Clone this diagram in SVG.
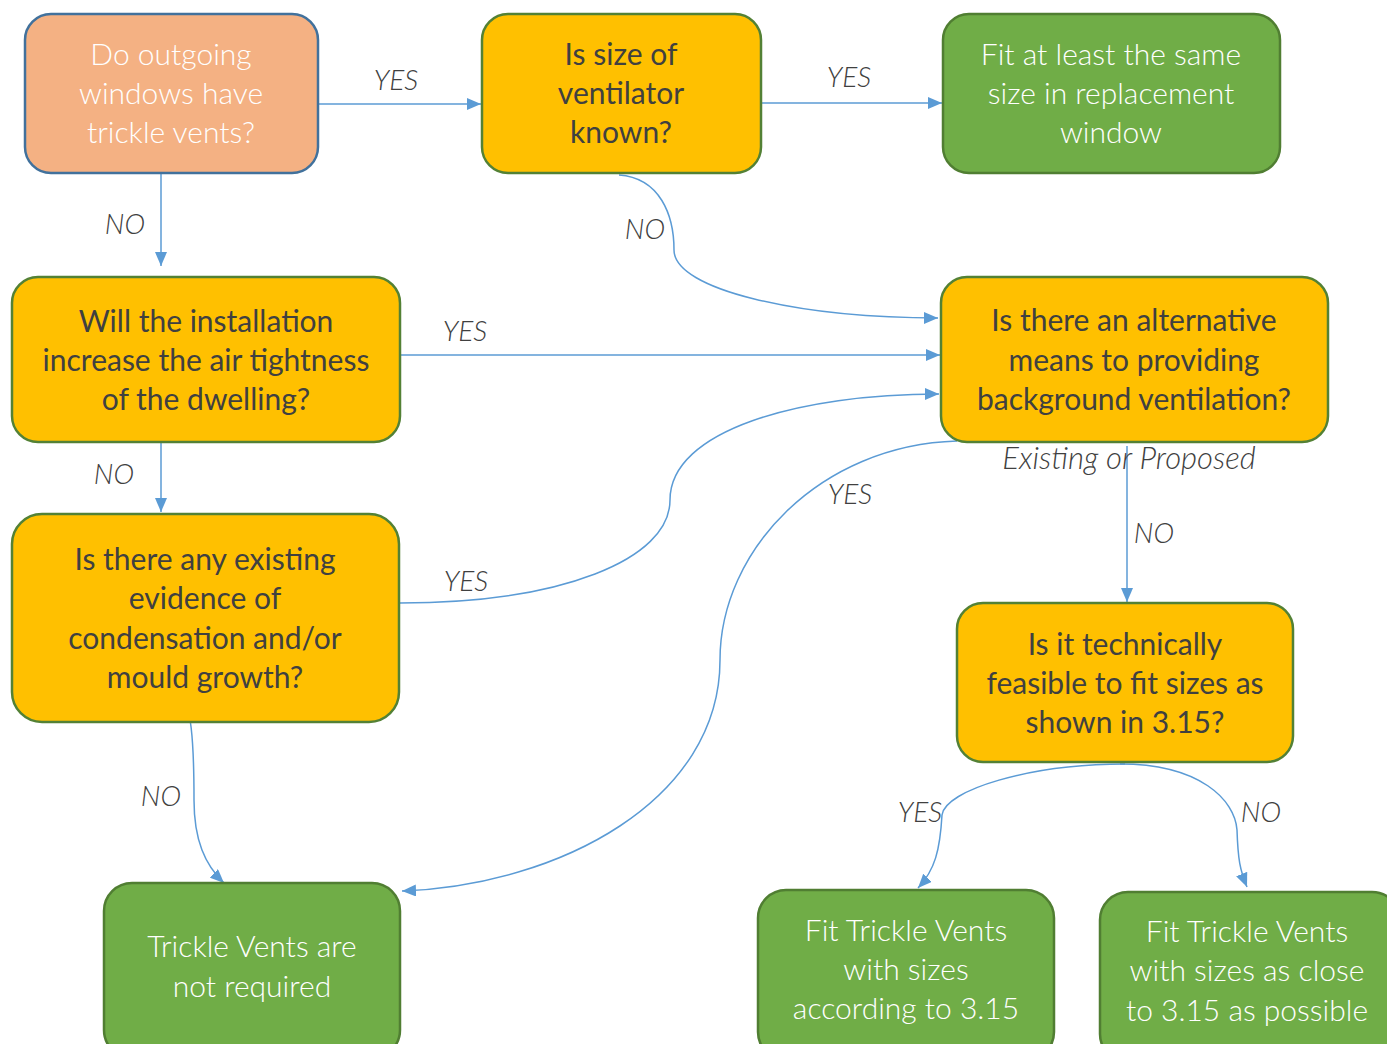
<svg xmlns="http://www.w3.org/2000/svg" width="1387" height="1044" viewBox="0 0 1387 1044">
<style>
.box{stroke-width:2.5}
.orange{fill:#F4B183;stroke:#41719C}
.yellow{fill:#FFC000;stroke:#538135}
.green{fill:#70AD47;stroke:#507E32}
.t{font-family:Lato,"Open Sans","Liberation Sans",sans-serif;font-size:30px;text-anchor:middle;font-weight:300}
.dark{fill:#404040;font-weight:400}
.light{fill:#FFFFFF}
.lbl{font-family:Lato,"Open Sans","Liberation Sans",sans-serif;font-size:28px;font-style:italic;fill:#404040;font-weight:300;text-anchor:middle}
.c{fill:none;stroke:#5B9BD5;stroke-width:1.5}
</style>
<defs>
<marker id="ah" viewBox="0 0 14 12" refX="14" refY="6" markerWidth="14" markerHeight="12" markerUnits="userSpaceOnUse" orient="auto">
<path d="M0,0 L14,6 L0,12 z" fill="#5B9BD5"/>
</marker>
</defs>
<rect width="1387" height="1044" fill="#FFFFFF"/>

<g id="connectors">
<path class="c" d="M318,104 L481,104" marker-end="url(#ah)"/>
<path class="c" d="M761,103 L942,103" marker-end="url(#ah)"/>
<path class="c" d="M161,173 L161,266" marker-end="url(#ah)"/>
<path class="c" d="M619,175 C660,178 674,215 674,250 C674,290 800,318 938,318" marker-end="url(#ah)"/>
<path class="c" d="M400,355 L940,355" marker-end="url(#ah)"/>
<path class="c" d="M161,442 L161,512" marker-end="url(#ah)"/>
<path class="c" d="M400,603 C560,603 670,560 670,500 C670,430 800,394 939,394" marker-end="url(#ah)"/>
<path class="c" d="M957,441 C820,445 720,550 720,660 C720,800 560,885 402,891" marker-end="url(#ah)"/>
<path class="c" d="M1127,446 L1127,602" marker-end="url(#ah)"/>
<path class="c" d="M187,708 C192,720 194,760 194,800 C194,840 205,865 224,883" marker-end="url(#ah)"/>
<path class="c" d="M1125,764 C1030,764 945,790 942,815 C940,850 935,870 918,888" marker-end="url(#ah)"/>
<path class="c" d="M1120,764 C1200,764 1235,800 1237,830 C1238,860 1240,870 1247,887" marker-end="url(#ah)"/>
</g>

<g id="labels">
<text class="lbl" x="396" y="90">YES</text>
<text class="lbl" x="849" y="87">YES</text>
<text class="lbl" x="125" y="234">NO</text>
<text class="lbl" x="645" y="239">NO</text>
<text class="lbl" x="465" y="341">YES</text>
<text class="lbl" x="114" y="484">NO</text>
<text class="lbl" x="466" y="591">YES</text>
<text class="lbl" x="850" y="504">YES</text>
<text class="lbl" x="1129" y="469" style="font-size:31px">Existing or Proposed</text>
<text class="lbl" x="1154" y="543">NO</text>
<text class="lbl" x="161" y="806">NO</text>
<text class="lbl" x="920" y="822">YES</text>
<text class="lbl" x="1261" y="822">NO</text>
</g>

<g id="n1">
<rect class="box orange" x="25" y="14" width="293" height="159" rx="26"/>
<text class="t light" x="171" y="65">Do outgoing</text>
<text class="t light" x="171" y="104">windows have</text>
<text class="t light" x="171" y="143">trickle vents?</text>
</g>
<g id="n2">
<rect class="box yellow" x="482" y="14" width="279" height="159" rx="26"/>
<text class="t dark" x="621" y="65">Is size of</text>
<text class="t dark" x="621" y="104">ventilator</text>
<text class="t dark" x="621" y="143">known?</text>
</g>
<g id="n3">
<rect class="box green" x="943" y="14" width="337" height="159" rx="26"/>
<text class="t light" x="1111" y="65">Fit at least the same</text>
<text class="t light" x="1111" y="104">size in replacement</text>
<text class="t light" x="1111" y="143">window</text>
</g>
<g id="n4">
<rect class="box yellow" x="12" y="277" width="388" height="165" rx="26"/>
<text class="t dark" x="206" y="332">Will the installation</text>
<text class="t dark" x="206" y="371">increase the air tightness</text>
<text class="t dark" x="206" y="410">of the dwelling?</text>
</g>
<g id="n5">
<rect class="box yellow" x="941" y="277" width="387" height="165" rx="26"/>
<text class="t dark" x="1134" y="331">Is there an alternative</text>
<text class="t dark" x="1134" y="371">means to providing</text>
<text class="t dark" x="1134" y="410">background ventilation?</text>
</g>
<g id="n6">
<rect class="box yellow" x="12" y="514" width="387" height="208" rx="30"/>
<text class="t dark" x="205" y="570">Is there any existing</text>
<text class="t dark" x="205" y="609">evidence of</text>
<text class="t dark" x="205" y="649">condensation and/or</text>
<text class="t dark" x="205" y="688">mould growth?</text>
</g>
<g id="n7">
<rect class="box yellow" x="957" y="603" width="336" height="159" rx="26"/>
<text class="t dark" x="1125" y="655">Is it technically</text>
<text class="t dark" x="1125" y="694">feasible to fit sizes as</text>
<text class="t dark" x="1125" y="733">shown in 3.15?</text>
</g>
<g id="n8">
<rect class="box green" x="104" y="883" width="296" height="175" rx="28"/>
<text class="t light" x="252" y="957">Trickle Vents are</text>
<text class="t light" x="252" y="997">not required</text>
</g>
<g id="n9">
<rect class="box green" x="758" y="890" width="296" height="170" rx="28"/>
<text class="t light" x="906" y="941">Fit Trickle Vents</text>
<text class="t light" x="906" y="980">with sizes</text>
<text class="t light" x="906" y="1019">according to 3.15</text>
</g>
<g id="n10">
<rect class="box green" x="1100" y="892" width="300" height="170" rx="28"/>
<text class="t light" x="1247" y="942">Fit Trickle Vents</text>
<text class="t light" x="1247" y="981">with sizes as close</text>
<text class="t light" x="1247" y="1021">to 3.15 as possible</text>
</g>
</svg>
